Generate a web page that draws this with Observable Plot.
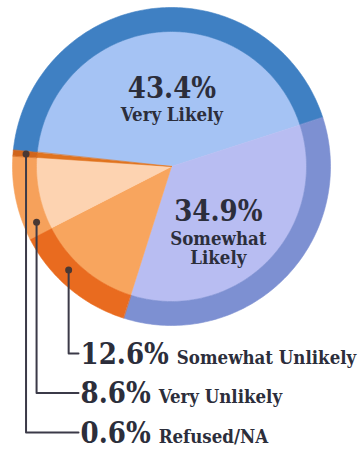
<!DOCTYPE html>
<html>
<head>
<meta charset="utf-8">
<script src="https://cdn.jsdelivr.net/npm/d3@7"></script>
<script src="https://cdn.jsdelivr.net/npm/@observablehq/plot@0.6"></script>
<style>
  html, body { margin: 0; padding: 0; background: #ffffff; }
  #chart svg { display: block; }
</style>
</head>
<body>
<div id="chart"></div>
<script>
// ---------- data ----------
const categories = ["Very Likely", "Somewhat Likely", "Somewhat Unlikely", "Very Unlikely", "Refused/NA"];
const percents = [43.4, 34.9, 12.6, 8.6, 0.6];
const percentLabels = ["43.4%", "34.9%", "12.6%", "8.6%", "0.6%"];
const nameLabels = ["Very Likely", "Somewhat\nLikely", "Somewhat Unlikely", "Very Unlikely", "Refused/NA"];

// ---------- styles ----------
const innerColors = ["#a5c3f4", "#b8bdf2", "#f8a55e", "#fdd3b1", "#e0731f"];
const ringColors  = ["#3f80c3", "#7d90d2", "#e96b1f", "#f6a15b", "#d0651c"];
const textColor = "#2c2e3b";
const leaderColor = "#3b3a48";
const dotColor = "#4a3833";
const FONT = "DejaVu Serif Condensed";

// ---------- layout ----------
const W = 362, H = 450;
const CX = 171, CY = 166;          // pie centre in px
const R_OUT = 159, R_IN = 135, R_DOT = 146;
const START = -84 * Math.PI / 180; // where the first slice begins (clockwise from north)
const insideIdx = [0, 1];
const insideRadius = [69, 72];
const insideShift = [0.11, 0.08];  // small angular nudge of the inside labels (radians)
const legendIdx = [2, 3, 4];
const dotFraction = [0.6, 0.15, 0.5];
const legendBaseline0 = 363, legendGap = 39.5, legendTextX = 80;
const pctSize = 29, nameSize = 18.5;

const polar = (a, r) => [r * Math.sin(a), r * Math.cos(a)];

const arcs = d3.pie().sort(null).value(d => d)
  .startAngle(START).endAngle(START + 2 * Math.PI)(percents);

// slice polygons (inner fill + outer ring) built from pie angles
const shapes = [];
function arcPts(a0, a1, r) {
  const n = Math.max(2, Math.ceil(Math.abs(a1 - a0) / (Math.PI / 180)) + 1);
  return d3.range(n).map(k => polar(a0 + (a1 - a0) * k / (n - 1), r));
}
arcs.forEach((a, i) => {
  const inner = [[0, 0], ...arcPts(a.startAngle, a.endAngle, R_IN)];
  inner.forEach(([x, y]) => shapes.push({id: i + "-in", x, y, color: innerColors[i]}));
  const ring = [...arcPts(a.startAngle, a.endAngle, R_OUT), ...arcPts(a.endAngle, a.startAngle, R_IN)];
  ring.forEach(([x, y]) => shapes.push({id: i + "-ring", x, y, color: ringColors[i]}));
});

// labels inside the pie
const insideRows = insideIdx.map((i, k) => {
  const a = arcs[i];
  const [x, y] = polar((a.startAngle + a.endAngle) / 2 + insideShift[k], insideRadius[k]);
  return {x, y, pct: percentLabels[i], name: nameLabels[i]};
});

// measure text widths for the legend rows
const ctx = document.createElement("canvas").getContext("2d");
ctx.font = `bold ${pctSize}px "${FONT}"`;

const legendRows = legendIdx.map((i, k) => {
  const a = arcs[i];
  const ang = a.startAngle + (a.endAngle - a.startAngle) * dotFraction[k];
  const [dx, dy] = polar(ang, R_DOT);
  const base = CY - (legendBaseline0 + k * legendGap);
  const tx = legendTextX - CX;
  return {
    i, dx, dy, base, tx,
    corner: base + 10,
    nameX: tx + ctx.measureText(percentLabels[i]).width + 8,
    pct: percentLabels[i], name: nameLabels[i]
  };
});
const leaderPts = legendRows.flatMap(r => [
  {id: r.i, x: r.dx, y: r.dy},
  {id: r.i, x: r.dx, y: r.corner},
  {id: r.i, x: r.tx - 2, y: r.corner}
]);

const chart = Plot.plot({
  width: W, height: H,
  margin: 0,
  x: {domain: [-CX, W - CX], range: [0, W], axis: null},
  y: {domain: [-(H - CY), CY], range: [H, 0], axis: null},
  color: {type: "identity"},
  style: {background: "#ffffff", fontFamily: FONT},
  marks: [
    Plot.line(shapes, {x: "x", y: "y", z: "id", fill: "color", stroke: "color", strokeWidth: 0.6, curve: "linear-closed"}),
    Plot.line(leaderPts, {x: "x", y: "y", z: "id", stroke: leaderColor, strokeWidth: 2}),
    Plot.dot(legendRows, {x: "dx", y: "dy", r: 3.5, fill: dotColor}),
    Plot.text(insideRows, {x: "x", y: "y", text: "pct", fill: textColor, fontSize: pctSize, fontWeight: "bold", fontFamily: FONT, lineAnchor: "bottom", textAnchor: "middle"}),
    Plot.text(insideRows, {x: "x", y: "y", text: "name", fill: textColor, fontSize: nameSize, fontWeight: "bold", fontFamily: FONT, lineAnchor: "top", dy: 10, lineHeight: 1.05, textAnchor: "middle"}),
    Plot.text(legendRows, {x: "tx", y: "base", text: "pct", fill: textColor, fontSize: pctSize, fontWeight: "bold", fontFamily: FONT, lineAnchor: "bottom", textAnchor: "start"}),
    Plot.text(legendRows, {x: "nameX", y: "base", text: "name", fill: textColor, fontSize: nameSize, fontWeight: "bold", fontFamily: FONT, lineAnchor: "bottom", textAnchor: "start"})
  ]
});
document.getElementById("chart").appendChild(chart);
</script>
</body>
</html>
